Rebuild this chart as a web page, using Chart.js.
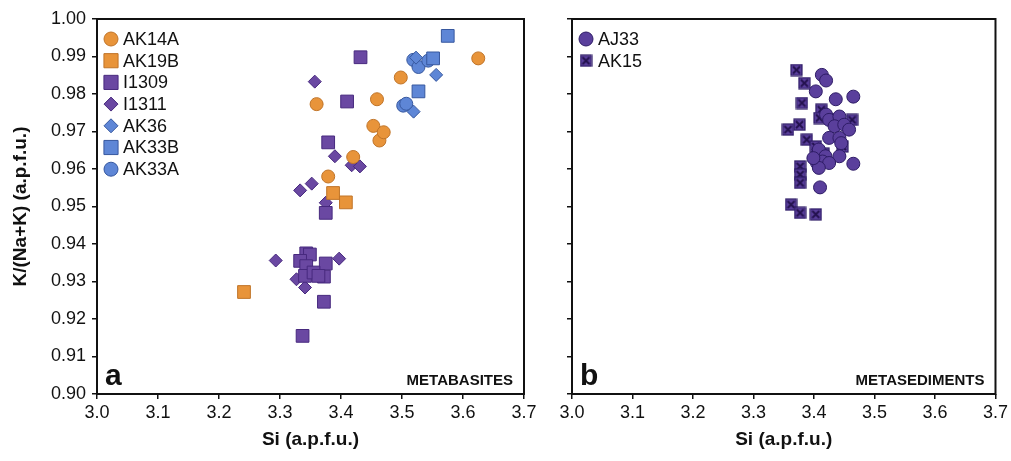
<!DOCTYPE html>
<html><head><meta charset="utf-8">
<script src="https://cdn.jsdelivr.net/npm/chart.js@4.4.1/dist/chart.umd.min.js"></script>
<style>
html,body{margin:0;padding:0;background:#fff;}
#wrap{position:relative;width:1011px;height:461px;overflow:hidden;}
#cA{position:absolute;left:0;top:0;}
#cB{position:absolute;left:545px;top:0;}
</style></head><body>
<div id="wrap"><canvas id="cA" width="545" height="461"></canvas><canvas id="cB" width="466" height="461"></canvas></div>
<script>
// ---------- data ----------
const xTickLabels = ['3.0','3.1','3.2','3.3','3.4','3.5','3.6','3.7'];
const yTickLabels = ['0.90','0.91','0.92','0.93','0.94','0.95','0.96','0.97','0.98','0.99','1.00'];

// Panel a (metabasites)
const ak14aSi = [3.360,3.379,3.420,3.453,3.459,3.463,3.470,3.498,3.625];
const ak14aK  = [0.9773,0.958,0.9632,0.9715,0.9786,0.9676,0.9698,0.9844,0.9895];
const ak19bSi = [3.241,3.387,3.408];
const ak19bK  = [0.9272,0.9536,0.9511];
const i1309Si = [3.432,3.410,3.379,3.375,3.343,3.349,3.375,3.333,3.343,3.372,3.341,3.355,3.363,3.372,3.337];
const i1309K  = [0.9898,0.978,0.9671,0.9483,0.9375,0.9372,0.9348,0.9355,0.9341,0.9313,0.9315,0.9324,0.9315,0.9246,0.9155];
const i1311Si = [3.357,3.390,3.4175,3.431,3.333,3.352,3.375,3.293,3.397,3.327,3.341];
const i1311K  = [0.9833,0.9634,0.961,0.9607,0.9543,0.9561,0.951,0.9356,0.9361,0.9306,0.9284];
const ak36Si  = [3.523,3.556,3.519];
const ak36K   = [0.9897,0.9851,0.9753];
const ak33bSi = [3.575,3.551,3.527];
const ak33bK  = [0.9955,0.9895,0.9807];
const ak33aSi = [3.5185,3.527,3.543,3.502,3.507];
const ak33aK  = [0.9891,0.9872,0.9889,0.9769,0.9774];

// Panel b (metasediments)
const aj33Si = [3.413,3.420,3.403,3.436,3.465,3.420,3.425,3.442,3.434,3.450,3.458,3.425,3.442,3.445,3.408,3.419,3.442,3.405,3.414,3.425,3.408,3.465,3.410,3.399];
const aj33K  = [0.9851,0.9836,0.9807,0.9786,0.9793,0.9745,0.9731,0.9740,0.9714,0.9718,0.9705,0.9683,0.9683,0.9669,0.9652,0.9634,0.9634,0.9616,0.9620,0.9616,0.9603,0.9614,0.9551,0.9629];
const ak15Si = [3.371,3.384,3.380,3.412,3.409,3.376,3.357,3.463,3.388,3.403,3.416,3.447,3.377,3.377,3.377,3.362,3.377,3.403,3.436];
const ak15K  = [0.9864,0.9829,0.9776,0.9758,0.9736,0.9718,0.9705,0.9731,0.9678,0.9660,0.9641,0.9660,0.9607,0.9585,0.9563,0.9505,0.9483,0.9479,0.9731];

// ---------- styles ----------
const ORANGE = '#E8943A', ORANGE_B = '#C07428';
const PURPLE = '#6A48A2', PURPLE_B = '#47297E';
const BLUE = '#5E86D6', BLUE_B = '#37589F';
const DPURP = '#5A3F9C', DPURP_B = '#2E1C66';
const FONT = "'Liberation Sans', Arial, sans-serif";

function pts(xs, ys){ return xs.map((x,i)=>({x:x, y:ys[i]})); }

// square-with-X marker
function makeXSquare(size){
  const c = document.createElement('canvas');
  c.width = size; c.height = size;
  const g = c.getContext('2d');
  g.fillStyle = DPURP; g.strokeStyle = DPURP_B; g.lineWidth = 1.2;
  g.fillRect(1,1,size-2,size-2); g.strokeRect(1,1,size-2,size-2);
  g.strokeStyle = '#24124f'; g.lineWidth = 2;
  g.beginPath(); g.moveTo(3,3); g.lineTo(size-3,size-3); g.moveTo(size-3,3); g.lineTo(3,size-3); g.stroke();
  return c;
}
const xSquare = makeXSquare(13);

function ds(label, xs, ys, style, fill, border, radius){
  return {label:label, data:pts(xs,ys), pointStyle:style, backgroundColor:fill, borderColor:border,
          pointRadius:radius, pointBorderWidth:1, pointHoverRadius:radius, showLine:false};
}

const framePlugin = {
  id:'frame',
  afterDraw(chart, args, o){
    const a = chart.chartArea, ctx = chart.ctx;
    ctx.save();
    ctx.strokeStyle = '#111'; ctx.lineWidth = 2;
    ctx.strokeRect(a.left, a.top, a.right-a.left, a.bottom-a.top);
    // panel letter and name
    ctx.fillStyle = '#111';
    ctx.textBaseline = 'alphabetic';
    ctx.font = "bold 30px " + FONT; ctx.textAlign = 'left';
    ctx.fillText(o.letter, a.left+8, a.bottom-9);
    ctx.font = "bold 15px " + FONT; ctx.textAlign = 'right';
    ctx.fillText(o.name, a.right-11, a.bottom-9);
    // legend
    ctx.font = "18px " + FONT; ctx.textAlign = 'left'; ctx.textBaseline = 'middle';
    chart.data.datasets.forEach((d,i)=>{
      const y = a.top + 20 + i*o.spacing;
      const x = a.left + 14;
      if (d.pointStyle instanceof HTMLCanvasElement){
        ctx.drawImage(d.pointStyle, x - d.pointStyle.width/2, y - d.pointStyle.height/2);
      } else {
        ctx.fillStyle = d.backgroundColor; ctx.strokeStyle = d.borderColor; ctx.lineWidth = 1;
        const r = d.pointStyle === 'rect' ? 10 : 7;
        Chart.helpers.drawPoint(ctx, {pointStyle:d.pointStyle, radius:r, rotation:0, borderWidth:1}, x, y);
      }
      ctx.fillStyle = '#111';
      ctx.fillText(d.label, x + 12, y + 1);
    });
    ctx.restore();
  }
};

function options(o){
  return {
    responsive:false, animation:false, events:[],
    layout:{padding:{top:19, right:o.padRight, left:0, bottom:0}},
    plugins:{legend:{display:false}, tooltip:{enabled:false},
      frame:{letter:o.letter, name:o.name, spacing:o.spacing}},
    scales:{
      x:{type:'linear', min:3.0, max:3.7,
        afterFit(s){ s.height = 67; },
        afterBuildTicks(s){ s.ticks = xTickLabels.map(t=>({value:parseFloat(t)})); },
        ticks:{callback:(v,i)=>xTickLabels[i], color:'#111', padding:3, maxRotation:0,
          font:{family:FONT, size:18}},
        grid:{display:true, drawOnChartArea:false, drawTicks:true, tickLength:5, color:'#111', lineWidth:1.5},
        border:{display:false},
        title:{display:true, text:'Si (a.p.f.u.)', color:'#111', padding:{top:4,bottom:10},
          font:{family:FONT, size:19, weight:'bold'}}
      },
      y:{type:'linear', min:0.90, max:1.00,
        afterFit(s){ s.width = o.yWidth; },
        afterBuildTicks(s){ s.ticks = yTickLabels.map(t=>({value:parseFloat(t)})); },
        ticks:{display:o.showY, callback:(v,i)=>yTickLabels[i], color:'#111', padding:6,
          font:{family:FONT, size:18}},
        grid:{display:true, drawOnChartArea:false, drawTicks:true, tickLength:5, color:'#111', lineWidth:1.5},
        border:{display:false},
        title:{display:o.showY, text:'K/(Na+K) (a.p.f.u.)', color:'#111', padding:{top:9,bottom:0},
          font:{family:FONT, size:19, weight:'bold'}}
      }
    }
  };
}

new Chart(document.getElementById('cA'), {
  type:'scatter',
  data:{datasets:[
    ds('AK14A', ak14aSi, ak14aK, 'circle', ORANGE, ORANGE_B, 6.5),
    ds('AK19B', ak19bSi, ak19bK, 'rect', ORANGE, ORANGE_B, 9),
    ds('I1309', i1309Si, i1309K, 'rect', PURPLE, PURPLE_B, 9),
    ds('I1311', i1311Si, i1311K, 'rectRot', PURPLE, PURPLE_B, 6.5),
    ds('AK36', ak36Si, ak36K, 'rectRot', BLUE, BLUE_B, 6.5),
    ds('AK33B', ak33bSi, ak33bK, 'rect', BLUE, BLUE_B, 9),
    ds('AK33A', ak33aSi, ak33aK, 'circle', BLUE, BLUE_B, 6.5)
  ]},
  options:options({padRight:21, yWidth:97, showY:true, letter:'a', name:'METABASITES', spacing:21.7}),
  plugins:[framePlugin]
});

new Chart(document.getElementById('cB'), {
  type:'scatter',
  data:{datasets:[
    ds('AJ33', aj33Si, aj33K, 'circle', DPURP, DPURP_B, 6.5),
    ds('AK15', ak15Si, ak15K, xSquare, DPURP, DPURP_B, 6.5)
  ]},
  options:options({padRight:14, yWidth:27, showY:false, letter:'b', name:'METASEDIMENTS', spacing:21.7}),
  plugins:[framePlugin]
});
</script>
</body></html>
